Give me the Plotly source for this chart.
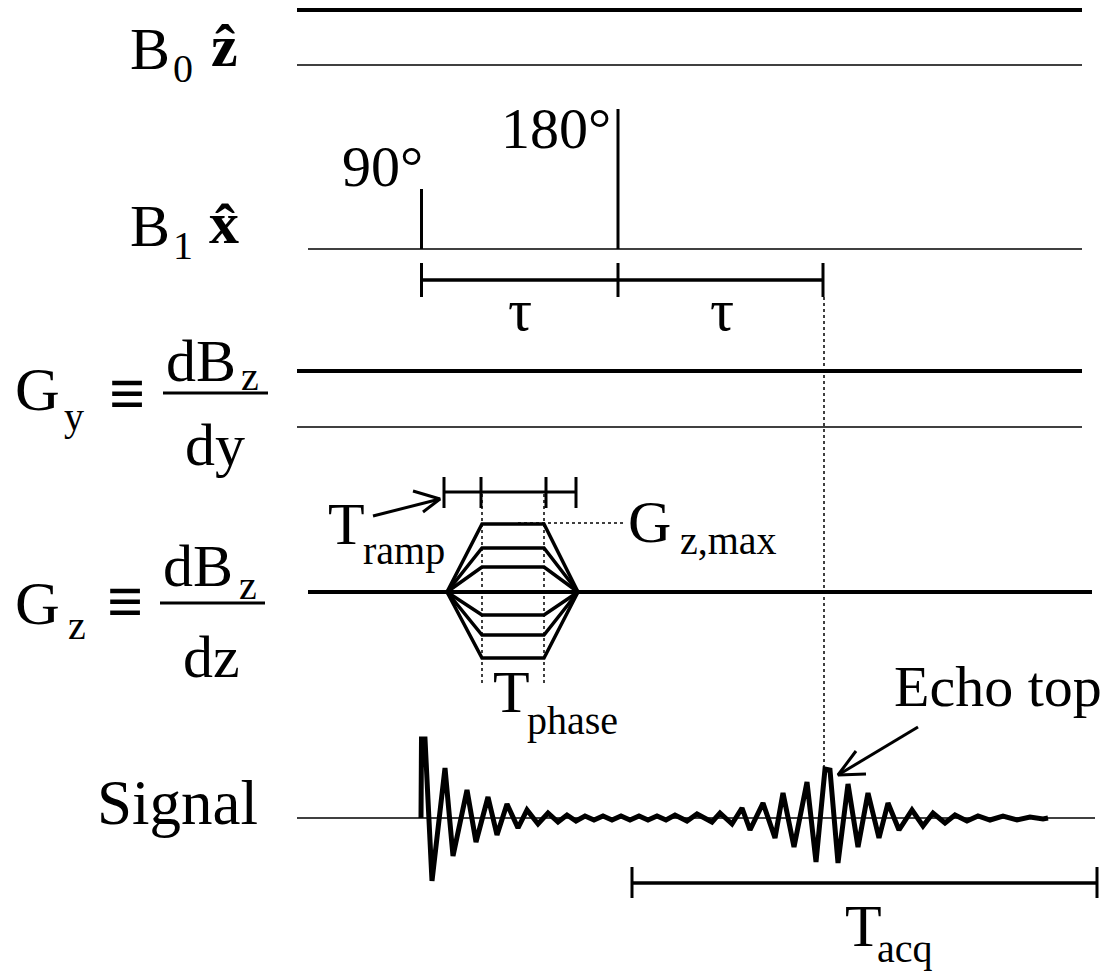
import plotly.graph_objects as go

# ---------------- data (diagram units: x = time axis, y = vertical axis, downwards) -------------
# channel baselines
b0_thick_y, b0_thin_y = 10, 65
b1_base_y = 249
gy_thick_y, gy_thin_y = 371, 427
gz_base_y = 592
sig_base_y = 818
line_x0, line_x1 = 297, 1082

# RF pulses (time, top)
pulse_t = [421.5, 618]
pulse_top = [189, 109]

# tau bar
tau_t = [421.5, 618, 823]
tau_y = 280

# Gz phase-encode trapezoid: times and amplitude levels (px above baseline)
trap_t = [447, 482, 544, 578]
trap_levels = [68, 44, 25, -23, -43, -66]
tramp_bar_t = [444, 481, 546, 576]
tramp_bar_y = 492

# signal: (time, amplitude)
sig_t = [421, 421.5, 425, 432, 445, 453, 467, 476, 488, 497, 507, 518, 527, 538, 548, 558,
         567, 576, 585, 594, 603, 612, 621, 630, 639, 648, 657, 666, 675, 687, 697, 712,
         720, 732, 742, 750, 763, 775, 783, 794, 807, 816, 825, 830, 838, 848, 858, 868,
         879, 888, 899, 912, 923, 933, 945, 955, 967, 978, 990, 1003, 1017, 1030, 1043, 1048]
sig_a = [0, 79, 79, -63, 50, -38, 28, -24, 21, -17, 14, -10, 8, -6, 5, -4,
         3, -3, 2, -2, 2, -2, 2, -2, 2, -2, 2, -2, 3, -3, 4, -4,
         5, -6, 10, -12, 15, -20, 25, -29, 36, -44, 49, 48, -45, 34, -29, 25,
         -20, 15, -12, 8, -8, 5, -5, 3, -3, 2, -2, 2, -2, 1, -1, 0]

echo_t = 824
tacq_t = [632, 1097]
tacq_y = 883

FONT = "Liberation Serif"
BLACK = "black"
PAGE_OFFSET = 8  # browser body margin

fig = go.Figure()


def seg(xs, ys, width=3.5, dash=None):
    fig.add_trace(go.Scatter(x=xs, y=ys, mode="lines",
                             line=dict(color=BLACK, width=width, dash=dash),
                             hoverinfo="skip", showlegend=False))


# B0 channel
seg([line_x0, line_x1], [b0_thick_y, b0_thick_y], 4)
seg([line_x0, line_x1], [b0_thin_y, b0_thin_y], 1.5)

# B1 channel
seg([308, line_x1], [b1_base_y, b1_base_y], 1.5)
for t, top in zip(pulse_t, pulse_top):
    seg([t, t], [b1_base_y, top], 3)

# tau bar
seg([tau_t[0], tau_t[-1]], [tau_y, tau_y], 3.5)
for t in tau_t:
    seg([t, t], [263, 297], 3)

# echo dotted guide
seg([echo_t, echo_t], [297, 770], 1.5, "dot")

# Gy channel
seg([line_x0, line_x1], [gy_thick_y, gy_thick_y], 4)
seg([line_x0, line_x1], [gy_thin_y, gy_thin_y], 1.5)

# Gz channel
seg([308, 1092], [gz_base_y, gz_base_y], 4)
for lv in trap_levels:
    seg(trap_t, [gz_base_y, gz_base_y - lv, gz_base_y - lv, gz_base_y], 3.5)
for t in trap_t[1:3]:
    seg([t, t], [494, 683], 1.5, "dot")
seg([tramp_bar_t[0], tramp_bar_t[-1]], [tramp_bar_y, tramp_bar_y], 3)
for t in tramp_bar_t:
    seg([t, t], [477, 508], 3)
# Gz,max dotted guide
seg([518, 625], [gz_base_y - trap_levels[0] - 1, gz_base_y - trap_levels[0] - 1], 1.5, "dot")

# arrows (shaft + open head)
ramp_arrow = dict(tail=(373, 516), tip=(440, 499), w1=(413, 491), w2=(423, 512))
echo_arrow = dict(tail=(918, 727), tip=(838, 775), w1=(856, 751), w2=(866, 774))
for a in (ramp_arrow, echo_arrow):
    seg([a["tail"][0], a["tip"][0]], [a["tail"][1], a["tip"][1]], 3)
    seg([a["w1"][0], a["tip"][0], a["w2"][0]], [a["w1"][1], a["tip"][1], a["w2"][1]], 3)

# Signal channel
seg([line_x0, 1095], [sig_base_y, sig_base_y], 1.5)
seg(sig_t, [sig_base_y - a for a in sig_a], 5)

# T_acq bar
seg(tacq_t, [tacq_y, tacq_y], 3.5)
for t in tacq_t:
    seg([t, t], [867, 898], 3)

# fraction bars
seg([163, 268], [393, 393], 3)
seg([160, 265], [603, 603], 3)

# ---------------- text ----------------
texts = [
    # (text, x, y, size, bold)
    ("B", 150, 49, 60, False), ("0", 183, 68, 40, False), ("ẑ", 224, 46, 60, True),
    ("B", 150, 226, 60, False), ("1", 183, 245, 40, False), ("x̂", 224, 223, 60, True),
    ("90°", 382, 166, 58, False), ("180°", 556, 128, 58, False),
    ("τ", 520, 310, 60, False), ("τ", 722, 310, 60, False),
    ("G", 37, 389, 62, False), ("y", 74, 416, 40, False), ("≡", 127, 393, 64, True),
    ("dB", 201, 361, 60, False), ("z", 250, 376, 40, False), ("dy", 215, 445, 60, False),
    ("G", 37, 603, 62, False), ("z", 77, 625, 40, False), ("≡", 125, 601, 64, True),
    ("dB", 198, 566, 60, False), ("z", 248, 585, 40, False), ("dz", 211, 657, 60, False),
    ("Signal", 177, 803, 63, False),
    ("T", 346, 524, 60, False), ("ramp", 404, 550, 40, False),
    ("G", 649, 522, 60, False), ("z,max", 728, 540, 40, False),
    ("T", 511, 692, 60, False), ("phase", 572, 720, 40, False),
    ("Echo top", 998, 686, 58, False),
    ("T", 863, 926, 60, False), ("acq", 905, 948, 40, False),
]
for txt, x, y, size, bold in texts:
    fig.add_annotation(x=x, y=y, text=f"<b>{txt}</b>" if bold else txt,
                       showarrow=False, xanchor="center", yanchor="middle",
                       font=dict(family=FONT, size=size, color=BLACK))

W, H = 1110, 974
fig.update_layout(
    width=W - PAGE_OFFSET, height=H - PAGE_OFFSET,
    margin=dict(l=0, r=0, t=0, b=0),
    paper_bgcolor="white", plot_bgcolor="white",
    xaxis=dict(range=[PAGE_OFFSET, W], visible=False, fixedrange=True),
    yaxis=dict(range=[H, PAGE_OFFSET], visible=False, fixedrange=True),
)
fig.write_html("out.html")
